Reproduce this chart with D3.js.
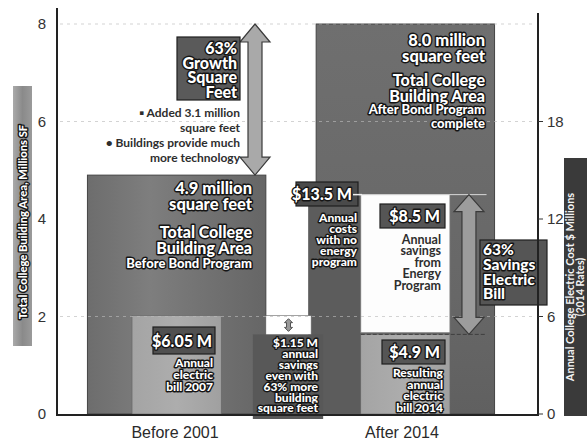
<!DOCTYPE html>
<html><head><meta charset="utf-8">
<script src="https://cdn.jsdelivr.net/npm/d3@7"></script>
<style>
body{margin:0;background:#fff;}
svg{display:block;font-family:Lato,"Open Sans",sans-serif;}
.ol{fill:#fff;stroke:#151515;stroke-width:2.8px;paint-order:stroke;stroke-linejoin:round;font-weight:900;}
.dk{fill:#2e2e2e;font-weight:700;}
.tick{font-family:"Liberation Sans Narrow","Liberation Sans",Arial,sans-serif;fill:#333;font-size:15px;}
</style></head><body>
<svg id="c" width="587" height="442"></svg>
<script>
// ---- data ----
const categories = ["Before 2001", "After 2014"];
const areaValues = [4.9, 8.0];          // total building area, million sq ft (left axis)
const billValues = [6.05, 4.9];         // annual electric bill, $M (right axis)
const noProgramCost = 13.5;             // annual cost with no energy program, $M
const programSavings = 8.5;             // savings from energy program, $M
const netSavings = 1.15;                // net annual savings, $M
const leftTicks = [0, 2, 4, 6, 8];
const rightTicks = [0, 6, 12, 18];
const growthPct = "63%";
const savingsPct = "63%";

const svg = d3.select("#c");
const defs = svg.append("defs");

// scales
const yL = d3.scaleLinear().domain([0, 8]).range([414, 24]);
const yR = d3.scaleLinear().domain([0, 24]).range([414, 24]);
const x = d3.scaleBand().domain(categories).range([60, 522]).paddingInner(0.22).paddingOuter(0.12);
const bw = x.bandwidth();
const inner = d3.scaleBand().domain(["bill"]).range([0, bw]).paddingOuter(0.5);
const ib = inner.bandwidth();
const x0 = x(categories[0]), x1 = x(categories[1]);

// gradients
function lin(id, stops, horiz) {
  const g = defs.append("linearGradient").attr("id", id)
    .attr("x1", 0).attr("y1", 0).attr("x2", horiz ? 1 : 0).attr("y2", horiz ? 0 : 1);
  stops.forEach(s => g.append("stop").attr("offset", s[0]).attr("stop-color", s[1]));
}
lin("gBefore", [[0, "#6d6d6d"], [0.35, "#7e7e7e"], [0.6, "#747474"], [1, "#666"]], true);
lin("gAfter", [[0, "#6f6f6f"], [0.7, "#676767"], [1, "#606060"]], false);
lin("gBill", [[0, "#a4a4a4"], [0.5, "#adadad"], [1, "#a0a0a0"]], true);
lin("gTitle", [[0, "#aaa"], [0.5, "#8a8a8a"], [1, "#9a9a9a"]], true);

// ---- big area bars ----
svg.append("g").selectAll("rect").data(categories).join("rect")
  .attr("x", d => x(d)).attr("width", bw)
  .attr("y", (d, i) => yL(areaValues[i])).attr("height", (d, i) => yL(0) - yL(areaValues[i]))
  .attr("fill", (d, i) => i ? "url(#gAfter)" : "url(#gBefore)")
  .attr("stroke", "#444").attr("stroke-width", 1);

// column: cost with no energy program
svg.append("rect").attr("x", x1 - 8).attr("width", inner("bill") + 8)
  .attr("y", yR(noProgramCost)).attr("height", yR(0) - yR(noProgramCost))
  .attr("fill", "#5c5c5c");
// savings box (white)
svg.append("rect").attr("x", x1 + inner("bill")).attr("width", ib)
  .attr("y", yR(noProgramCost)).attr("height", yR(noProgramCost - programSavings) - yR(noProgramCost))
  .attr("fill", "#fdfdfd").attr("stroke", "#777").attr("stroke-width", 0.8);

// electric bill bars
svg.append("g").selectAll("rect").data(categories).join("rect")
  .attr("x", d => x(d) + inner("bill")).attr("width", ib)
  .attr("y", (d, i) => yR(billValues[i])).attr("height", (d, i) => yR(0) - yR(billValues[i]))
  .attr("fill", "url(#gBill)").attr("stroke", "#666").attr("stroke-width", 0.6);

// middle: net savings gap & text box
svg.append("rect").attr("x", x0 + bw - 13).attr("width", x1 - x0 - bw + 20)
  .attr("y", yR(billValues[1])).attr("height", yR(0) - yR(billValues[1]) + 5)
  .attr("fill", "#585858");
svg.append("rect").attr("x", x0 + bw).attr("width", x1 - x0 - bw - 5)
  .attr("y", yR(billValues[0])).attr("height", yR(billValues[1]) - yR(billValues[0]))
  .attr("fill", "#fff").attr("stroke", "#666").attr("stroke-width", 0.6);
// small double arrow icon
(function () {
  const cx = x0 + bw + (x1 - x0 - bw - 5) / 2, t = yR(billValues[0]) + 3, b = yR(billValues[1]) - 3;
  svg.append("path").attr("d",
    `M${cx},${t} l4,4 h-2 v${b - t - 8} h2 l-4,4 l-4,-4 h2 v${-(b - t - 8)} h-2 z`)
    .attr("fill", "#999").attr("stroke", "#333").attr("stroke-width", 0.8);
})();

// ---- faint gridlines ----
const grid = svg.append("g").attr("stroke", "#bbb").attr("stroke-width", 0.8).attr("stroke-dasharray", "3,4").attr("opacity", 0.8);
[2, 6, 8].forEach(v => grid.append("line").attr("x1", 60).attr("x2", 536).attr("y1", yL(v)).attr("y2", yL(v)));
// level lines
svg.append("line").attr("x1", x1 + inner("bill") - 2).attr("x2", x1 + bw - 8)
  .attr("y1", yR(noProgramCost)).attr("y2", yR(noProgramCost)).attr("stroke", "#d8d8d8").attr("stroke-width", 1);
svg.append("line").attr("x1", x1 + inner("bill")).attr("x2", x1 + bw - 8)
  .attr("y1", yR(billValues[1])).attr("y2", yR(billValues[1])).attr("stroke", "#333").attr("stroke-width", 0.8).attr("stroke-dasharray", "4,2");

// ---- double arrows ----
function dArrow(cx, y1, y2, sw, hw, hl, fill) {
  const p = `M${cx},${y1} L${cx + hw},${y1 + hl} L${cx + sw},${y1 + hl} L${cx + sw},${y2 - hl} L${cx + hw},${y2 - hl}
    L${cx},${y2} L${cx - hw},${y2 - hl} L${cx - sw},${y2 - hl} L${cx - sw},${y1 + hl} L${cx - hw},${y1 + hl} Z`;
  svg.append("path").attr("d", p).attr("fill", fill).attr("stroke", "#3a3a3a").attr("stroke-width", 1.2);
}
dArrow(255, yL(8), yL(areaValues[0]), 7, 15, 18, "#a9a9a9");
dArrow(x1 + inner("bill") + ib + 19, yR(noProgramCost), yR(billValues[1]), 7, 15, 17, "#9c9c9c");

// ---- text helpers ----
function lines(arr, xx, y0, lh, size, cls, anchor) {
  const t = svg.append("text").attr("class", cls).attr("font-size", size).attr("text-anchor", anchor || "end");
  arr.forEach((s, i) => t.append("tspan").attr("x", xx).attr("y", y0 + i * lh).text(s));
  return t;
}
function box(xx, yy, w, h, fill) {
  svg.append("rect").attr("x", xx).attr("y", yy).attr("width", w).attr("height", h)
    .attr("fill", fill || "#505050").attr("stroke", "#1e1e1e").attr("stroke-width", 1.2);
}

// growth box
box(177, 37, 63, 63, "#5a5a5a");
lines([growthPct, "Growth", "Square", "Feet"], 237, 54, 14.5, 16, "ol");
// bullets
lines(["\u25AA Added " + (areaValues[1] - areaValues[0]).toFixed(1) + " million", "square feet",
  "\u2022 Buildings provide much", "more technology"], 240, 117, 15, 12, "dk");

// before bar text
lines([areaValues[0].toFixed(1) + " million", "square feet"], 252, 194, 16, 16.5, "ol");
lines(["Total College", "Building Area"], 252, 238, 16, 16, "ol");
lines(["Before Bond Program"], 252, 268, 13, 13, "ol");

// after bar text
lines([areaValues[1].toFixed(1) + " million", "square feet"], 485, 46, 16, 16.5, "ol");
lines(["Total College", "Building Area"], 485, 86, 16, 16, "ol");
lines(["After Bond Program", "complete"], 485, 114, 13.5, 13, "ol");

// $6.05M
box(153, 327, 62, 27);
lines(["$" + billValues[0].toFixed(2) + " M"], 212, 347, 0, 16, "ol");
lines(["Annual", "electric", "bill 2007"], 213, 367, 11.8, 12, "ol");

// $13.5M
box(296, 182, 62, 24, "#4a4a4a");
lines(["$" + noProgramCost.toFixed(1) + " M"], 352, 200, 0, 16, "ol");
svg.append("line").attr("x1", 353).attr("x2", 362).attr("y1", yR(noProgramCost)).attr("y2", yR(noProgramCost)).attr("stroke", "#eee").attr("stroke-width", 1.5);
lines(["Annual", "costs", "with no", "energy", "program"], 357, 222, 11, 12, "ol");

// $8.5M
box(380, 204, 65, 24, "#555");
lines(["$" + programSavings.toFixed(1) + " M"], 440, 222, 0, 16, "ol");
lines(["Annual", "savings", "from", "Energy", "Program"], 441, 244, 11.4, 12.5, "dk");

// $4.9M
box(382, 340, 63, 24, "#555");
lines(["$" + billValues[1].toFixed(1) + " M"], 440, 358, 0, 16, "ol");
lines(["Resulting", "annual", "electric", "bill 2014"], 443, 377, 11.5, 12, "ol");

// $1.15M
lines(["$" + netSavings.toFixed(2) + " M", "annual", "savings", "even with", growthPct + " more", "building", "square feet"],
  318, 347, 10.9, 12, "ol");

// 63% savings box
box(480, 240, 67, 65, "#555");
lines([savingsPct, "Savings", "Electric", "Bill"], 483, 255, 14.8, 15.5, "ol", "start");

// ---- axes ----
const ax = svg.append("g").attr("stroke", "#222").attr("stroke-width", 2);
ax.append("line").attr("x1", 57).attr("x2", 57).attr("y1", 8).attr("y2", yL(0) + 1);
ax.append("line").attr("x1", 538).attr("x2", 538).attr("y1", 13).attr("y2", yL(0) + 1);
ax.append("line").attr("x1", 56).attr("x2", 539).attr("y1", yL(0) + 1).attr("y2", yL(0) + 1);
svg.append("g").selectAll("text").data(leftTicks).join("text").attr("class", "tick")
  .attr("x", 42).attr("y", d => yL(d) + 5).attr("text-anchor", "middle").text(d => d);
svg.append("g").selectAll("line").data(rightTicks).join("line")
  .attr("x1", 538).attr("x2", 543).attr("y1", d => yR(d)).attr("y2", d => yR(d)).attr("stroke", "#333").attr("stroke-width", 1);
svg.append("g").selectAll("text").data(rightTicks).join("text").attr("class", "tick")
  .attr("x", 547).attr("y", d => yR(d) + 5).attr("text-anchor", "start").text(d => d);
svg.append("g").selectAll("text").data(categories).join("text")
  .attr("x", (d, i) => [175, 402][i]).attr("y", 438).attr("text-anchor", "middle")
  .attr("font-family", "'Liberation Sans',Arial,sans-serif").attr("font-size", 16).attr("fill", "#2a2a2a").text(d => d);

// axis titles
svg.append("rect").attr("x", 13).attr("y", 86).attr("width", 19).attr("height", 260).attr("fill", "url(#gTitle)");
svg.append("text").attr("class", "ol").attr("font-size", 11.2).attr("text-anchor", "middle")
  .attr("transform", "translate(26.5,222) rotate(-90)").text("Total College Building Area, Millions SF");
svg.append("rect").attr("x", 564).attr("y", 158).attr("width", 24).attr("height", 258).attr("fill", "#3a3a3a");
svg.append("text").attr("font-size", 11).attr("font-weight", 700).attr("fill", "#f4f4f4").attr("text-anchor", "middle")
  .attr("transform", "translate(574,287) rotate(-90)").text("Annual College Electric Cost $ Millions");
svg.append("text").attr("font-size", 10.5).attr("font-weight", 700).attr("fill", "#f4f4f4").attr("text-anchor", "middle")
  .attr("transform", "translate(584,287) rotate(-90)").text("(2014 Rates)");
</script></body></html>
